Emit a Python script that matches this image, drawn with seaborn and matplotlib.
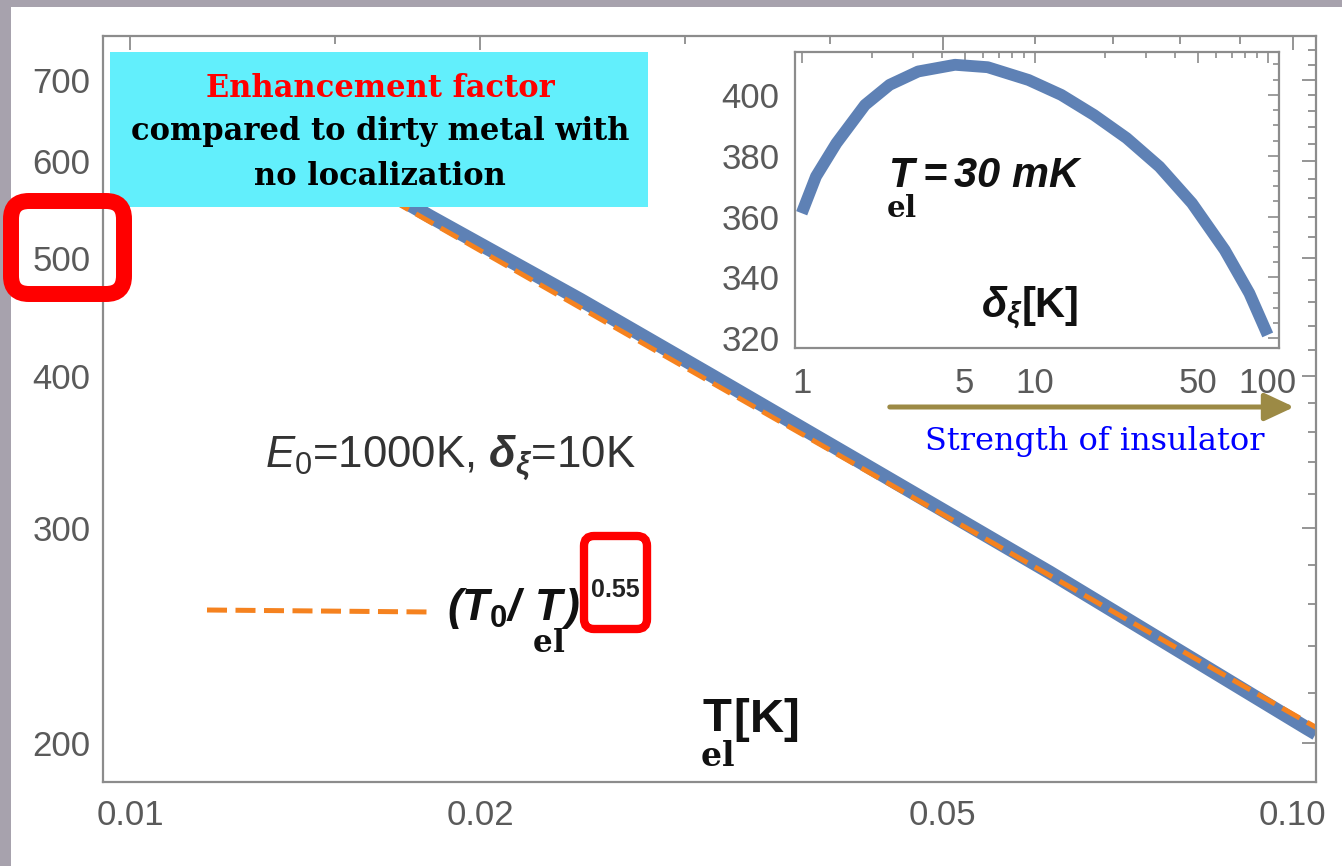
import matplotlib
matplotlib.use("Agg")
import matplotlib.pyplot as plt
import seaborn as sns
import numpy as np
import pandas as pd
from matplotlib.patches import Rectangle, FancyBboxPatch, FancyArrowPatch
from matplotlib.lines import Line2D
from matplotlib.transforms import IdentityTransform
from matplotlib.ticker import FixedLocator, FixedFormatter, NullFormatter

# ---------------- data ----------------
t_el = [0.0125, 0.0181, 0.0244, 0.0317, 0.0416, 0.0618, 0.1028, 0.1047]
enhancement = [664, 541, 462, 400, 344, 276, 205.7, 203.6]

fit_t = [0.0125, 0.1047]
fit_enh = [655, 206]

delta_xi = [1.0, 1.152, 1.409, 1.870, 2.384, 3.162, 4.549, 6.285, 9.413,
            13.0, 17.96, 24.8, 34.3, 47.3, 65.4, 83.4, 100.0]
enh_30mk = [361.1, 373.2, 384.1, 396.7, 403.3, 407.7, 409.9, 409.1, 404.9,
            400.0, 393.4, 385.8, 376.4, 364.4, 349.0, 334.8, 321.1]

x_major = [0.01, 0.02, 0.05, 0.10]
x_major_labels = ["0.01", "0.02", "0.05", "0.10"]
x_minor = [0.015, 0.03, 0.04, 0.06, 0.07, 0.08, 0.09]
y_major = [200, 300, 400, 500, 600, 700]
y_major_labels = ["200", "300", "400", "500", "600", "700"]
y_minor = [220, 240, 260, 280, 320, 340, 360, 380, 420, 440, 460, 480,
           520, 540, 560, 580, 620, 640, 660, 680, 720, 740]

in_x_major = [1, 5, 10, 50, 100]
in_x_labels = ["1", "5", "10", "50", "100"]
in_x_minor = [2, 3, 4, 6, 7, 8, 9, 20, 30, 40, 60, 70, 80, 90]
in_y_major = [320, 340, 360, 380, 400]
in_y_labels = ["320", "340", "360", "380", "400"]
in_y_minor = [325, 330, 335, 345, 350, 355, 365, 370, 375, 385, 390, 395, 405, 410]

# ---------------- style ----------------
sns.set_theme(style="white")
plt.rcParams['font.family'] = ['Liberation Sans', 'DejaVu Sans']
plt.rcParams['mathtext.fontset'] = 'custom'
plt.rcParams['mathtext.rm'] = 'Liberation Sans'
plt.rcParams['mathtext.it'] = 'Liberation Sans:italic'
plt.rcParams['mathtext.bf'] = 'Liberation Sans:bold'
plt.rcParams['mathtext.bfit'] = 'Liberation Sans:bold:italic'
plt.rcParams['mathtext.tt'] = 'DejaVu Serif:bold'

W, H = 1342, 866
BLUE = '#5E81B5'
ORANGE = '#F5821F'
AXC = '#8c8c8c'
LBL = '#5a5a5a'

fig = plt.figure(figsize=(W / 100, H / 100), dpi=100)
fig.patch.set_facecolor('#a7a2ad')
ident = IdentityTransform()


def px(x, y):
    return x / W, 1 - y / H


# white slide area
fig.add_artist(Rectangle((11, 0), W - 11, H - 7, transform=ident,
                         facecolor='white', edgecolor='none', zorder=-10))

# ---------------- main axes ----------------
ax = fig.add_axes([103 / W, (H - 782) / H, (1316 - 103) / W, (782 - 36) / H])
ax.set_facecolor('white')
sns.lineplot(x=t_el, y=enhancement, ax=ax, color=BLUE, linewidth=10,
             sort=False, solid_capstyle='butt')
sns.lineplot(x=fit_t, y=fit_enh, ax=ax, color=ORANGE, linewidth=3.6,
             sort=False)
ax.lines[-1].set_dashes((4.0, 1.7))
ax.lines[-1].set_dash_capstyle('butt')
ax.set_xscale('log')
ax.set_yscale('log')
ax.set_xlim(0.00948, 0.1047)
ax.set_ylim(185.8, 760.4)
ax.xaxis.set_major_locator(FixedLocator(x_major))
ax.xaxis.set_major_formatter(FixedFormatter(x_major_labels))
ax.xaxis.set_minor_locator(FixedLocator(x_minor))
ax.xaxis.set_minor_formatter(NullFormatter())
ax.yaxis.set_major_locator(FixedLocator(y_major))
ax.yaxis.set_major_formatter(FixedFormatter(y_major_labels))
ax.yaxis.set_minor_locator(FixedLocator(y_minor))
ax.yaxis.set_minor_formatter(NullFormatter())
ax.set_xlabel('')
ax.set_ylabel('')
for s in ax.spines.values():
    s.set_color(AXC)
    s.set_linewidth(1.6)
ax.tick_params(which='both', direction='in', top=True, right=True,
               color=AXC, width=1.3, labelcolor=LBL, labelsize=25)
ax.tick_params(which='major', length=10)
ax.tick_params(which='minor', length=5.5)
ax.tick_params(axis='x', which='major', pad=12)
ax.tick_params(axis='y', which='major', pad=9)

# ---------------- inset ----------------
ax2 = fig.add_axes([795 / W, (H - 348) / H, (1279 - 795) / W, (348 - 52) / H])
ax2.set_facecolor('white')
sns.lineplot(x=delta_xi, y=enh_30mk, ax=ax2, color=BLUE, linewidth=8.5,
             sort=False, solid_capstyle='butt', solid_joinstyle='round')
ax2.set_xscale('log')
ax2.set_xlim(0.936, 111.8)
ax2.set_ylim(316.8, 414.1)
ax2.xaxis.set_major_locator(FixedLocator(in_x_major))
ax2.xaxis.set_major_formatter(FixedFormatter(in_x_labels))
ax2.xaxis.set_minor_locator(FixedLocator(in_x_minor))
ax2.xaxis.set_minor_formatter(NullFormatter())
ax2.yaxis.set_major_locator(FixedLocator(in_y_major))
ax2.yaxis.set_major_formatter(FixedFormatter(in_y_labels))
ax2.yaxis.set_minor_locator(FixedLocator(in_y_minor))
ax2.yaxis.set_minor_formatter(NullFormatter())
ax2.set_xlabel('')
ax2.set_ylabel('')
for s in ax2.spines.values():
    s.set_color(AXC)
    s.set_linewidth(1.6)
ax2.tick_params(which='both', direction='in', top=True, right=True,
                color=AXC, width=1.2, labelcolor=LBL, labelsize=25)
ax2.tick_params(which='major', length=8)
ax2.tick_params(which='minor', length=4.5)
ax2.tick_params(axis='x', which='major', pad=14)
ax2.tick_params(axis='y', which='major', pad=11)

# ---------------- annotations ----------------
# cyan title box
fig.add_artist(Rectangle((110, H - 207), 538, 155, transform=ident,
                         facecolor='#62EFFC', edgecolor='none', zorder=4))
serif = ['DejaVu Serif']
fig.text(*px(380, 97), 'Enhancement factor', color='#ff0000', fontsize=22,
         fontweight='bold', family=serif, ha='center', va='baseline', zorder=6)
fig.text(*px(380, 140), 'compared to dirty metal with', color='black', fontsize=22,
         fontweight='bold', family=serif, ha='center', va='baseline', zorder=6)
fig.text(*px(380, 185), 'no localization', color='black', fontsize=22,
         fontweight='bold', family=serif, ha='center', va='baseline', zorder=6)

# parameters
fig.text(*px(450, 467), r'$\mathit{E}_{0}$=1000K, $\mathbfit{\delta}_{\mathbfit{\xi}}$=10K',
         color='#333333', fontsize=31.5, ha='center', va='baseline', zorder=6)

# legend for the dashed fit
fig.add_artist(Line2D([207 / W, 430 / W], [1 - 610 / H, 1 - 612 / H],
                      transform=fig.transFigure, color=ORANGE, linewidth=3.6,
                      dashes=(4.0, 1.7), dash_capstyle='butt', zorder=6))
fig.text(*px(447, 620),
         r'$\mathbfit{(T}_{\mathbf{0}}\mathbfit{/\ }\underset{\mathtt{el}}{\mathbfit{T}}\mathbfit{)}$',
         color='#111111', fontsize=32, ha='left', va='baseline', zorder=6)
fig.text(*px(615, 597), '0.55', color='#222222', fontsize=18, fontweight='bold',
         ha='center', va='baseline', zorder=6)

# axis label T_el [K]
fig.text(*px(700, 732), r'$\underset{\mathtt{el}}{\mathbf{T}}\mathbf{[K]}$',
         color='#111111', fontsize=34, ha='left', va='baseline', zorder=6)

# inset texts
fig.text(*px(886, 187), r'$\underset{\mathtt{el}}{\mathbfit{T}}\mathbfit{=30\ mK}$',
         color='#111111', fontsize=30, ha='left', va='baseline', zorder=6)
fig.text(*px(1030, 317), r'$\mathbfit{\delta}_{\mathbfit{\xi}}\mathbf{[K]}$',
         color='#111111', fontsize=30, ha='center', va='baseline', zorder=6)

# arrow + strength of insulator
fig.add_artist(FancyArrowPatch((887, H - 407), (1297, H - 407), transform=ident,
                               arrowstyle='-|>,head_length=0.9,head_width=0.42',
                               mutation_scale=20, linewidth=3.6,
                               color='#9C8A45', zorder=6))
fig.text(*px(1095, 450), 'Strength of insulator', color='#0000ff', fontsize=23,
         family=serif, ha='center', va='baseline', zorder=6)

# red highlight boxes
fig.add_artist(FancyBboxPatch((11, H - 294), 113, 93, transform=ident,
                              boxstyle='round,pad=0,rounding_size=18',
                              facecolor='none', edgecolor='#ff0000',
                              linewidth=11.5, zorder=8))
fig.add_artist(FancyBboxPatch((584, H - 629), 63, 93, transform=ident,
                              boxstyle='round,pad=0,rounding_size=10',
                              facecolor='none', edgecolor='#ff0000',
                              linewidth=6, zorder=8))

fig.savefig('out.png', dpi=100, facecolor=fig.get_facecolor())
